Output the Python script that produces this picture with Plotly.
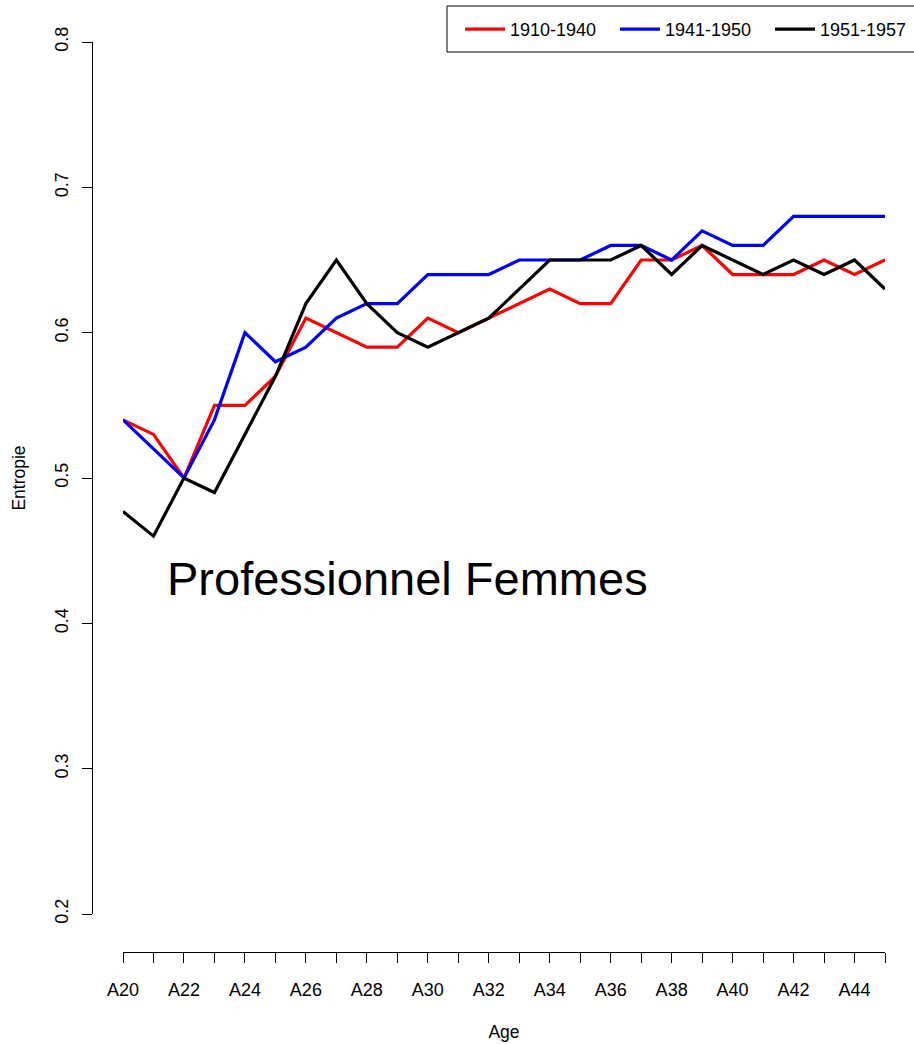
import plotly.graph_objects as go

ages = ["A%d" % a for a in range(20, 46)]
tick_labels = [a if i % 2 == 0 else "" for i, a in enumerate(ages)]
y_ticks = [0.2, 0.3, 0.4, 0.5, 0.6, 0.7, 0.8]
y_tick_labels = ["0.2", "0.3", "0.4", "0.5", "0.6", "0.7", "0.8"]

series_names = ["1910-1940", "1941-1950", "1951-1957"]
red_1910_1940 = [0.54, 0.53, 0.50, 0.55, 0.55, 0.57, 0.61, 0.60, 0.59, 0.59,
                 0.61, 0.60, 0.61, 0.62, 0.63, 0.62, 0.62, 0.65, 0.65, 0.66,
                 0.64, 0.64, 0.64, 0.65, 0.64, 0.65]
blue_1941_1950 = [0.54, 0.52, 0.50, 0.54, 0.60, 0.58, 0.59, 0.61, 0.62, 0.62,
                  0.64, 0.64, 0.64, 0.65, 0.65, 0.65, 0.66, 0.66, 0.65, 0.67,
                  0.66, 0.66, 0.68, 0.68, 0.68, 0.68]
black_1951_1957 = [0.477, 0.46, 0.50, 0.49, 0.53, 0.57, 0.62, 0.65, 0.62, 0.60,
                   0.59, 0.60, 0.61, 0.63, 0.65, 0.65, 0.65, 0.66, 0.64, 0.66,
                   0.65, 0.64, 0.65, 0.64, 0.65, 0.63]
colors = ["#ff0000", "#0000ff", "#000000"]

FONT = "Liberation Sans, Arial, sans-serif"

fig = go.Figure()
for name, vals, col in zip(series_names, [red_1910_1940, blue_1941_1950, black_1951_1957], colors):
    fig.add_trace(go.Scatter(x=ages, y=vals, mode="lines", name=name,
                             line=dict(color=col, width=3.2)))

W, H = 914, 1044
ml, mr, mt, mb = 92, 0, 5, 92
pw = W - ml - mr
ph = H - mt - mb
x0px, x1px = 123, 885
y0px, y1px = 914, 42  # pixel rows of 0.2 and 0.8
xdom = [(x0px - ml) / pw, (x1px - ml) / pw]
ydom = [(H - mb - y0px) / ph, (H - mb - y1px) / ph]

def px_x(p):
    return (p - ml) / pw

def px_y(p):
    return (H - mb - p) / ph

fig.update_layout(
    width=W, height=H,
    margin=dict(l=ml, r=mr, t=mt, b=mb, autoexpand=False),
    plot_bgcolor="white", paper_bgcolor="white",
    font=dict(family=FONT, size=17, color="black"),
    showlegend=True,
    legend=dict(orientation="h", x=px_x(460), xanchor="left",
                y=px_y(11), yanchor="top",
                font=dict(size=18), bgcolor="rgba(0,0,0,0)",
                itemwidth=40, entrywidth=100, entrywidthmode="pixels"),
    xaxis=dict(domain=xdom, type="category", range=[0, len(ages) - 1],
               tickmode="array", tickvals=ages, ticktext=tick_labels,
               tickfont=dict(size=18),
               showline=True, linecolor="black", linewidth=1,
               ticks="outside", ticklen=10, tickcolor="black",
               ticklabelstandoff=11, automargin=False,
               showgrid=False, zeroline=False,
               anchor="free", position=0,
               title=dict(text="Age", standoff=27, font=dict(size=17.5))),
    yaxis=dict(domain=ydom, range=[0.2, 0.8],
               tickmode="array", tickvals=y_ticks, ticktext=y_tick_labels,
               tickangle=-90, tickfont=dict(size=18),
               showline=True, linecolor="black", linewidth=1,
               ticks="outside", ticklen=10, tickcolor="black",
               ticklabelstandoff=7, automargin=False,
               showgrid=False, zeroline=False,
               anchor="free", position=0,
               title=dict(text="Entropie", standoff=20, font=dict(size=17.5))),
)

fig.add_annotation(text="Professionnel Femmes", x=1.38, y=0.431,
                   xref="x", yref="y", xanchor="left", yanchor="middle",
                   showarrow=False, font=dict(size=47, family=FONT, color="black"))

# legend box (left, bottom, top edges as in reference)
fig.add_shape(type="rect", xref="paper", yref="paper",
              x0=px_x(447), x1=px_x(916),
              y0=px_y(52), y1=px_y(6),
              line=dict(color="black", width=1), fillcolor="rgba(0,0,0,0)")

fig.write_html("out.html", config={"displayModeBar": False},
               post_script="document.body.style.margin='0px';document.body.style.padding='0px';")
